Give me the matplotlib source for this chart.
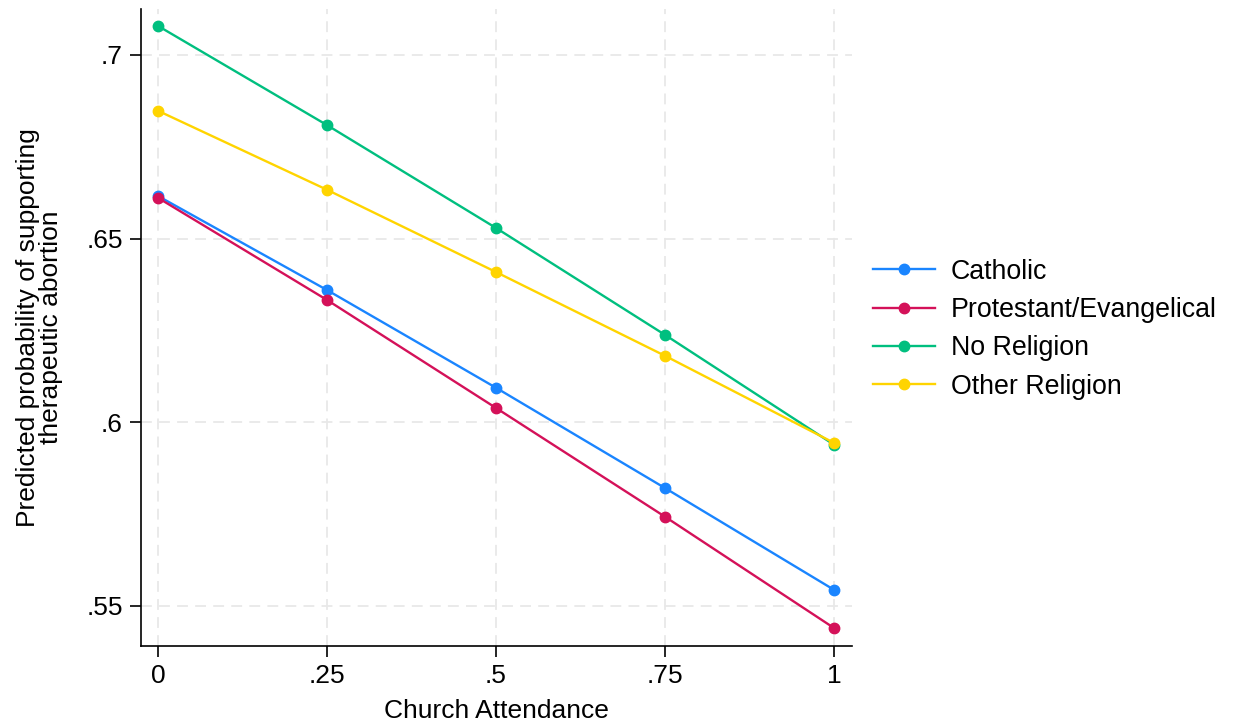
import matplotlib.pyplot as plt

plt.rcParams['font.family'] = ['Liberation Sans', 'DejaVu Sans']

# Church attendance levels and predicted probabilities
attendance = [0, 0.25, 0.5, 0.75, 1]
catholic = [0.6616, 0.6360, 0.6094, 0.5821, 0.5544]
protestant = [0.6611, 0.6333, 0.6039, 0.5743, 0.5440]
no_religion = [0.7079, 0.6809, 0.6529, 0.6238, 0.5939]
other_religion = [0.6848, 0.6633, 0.6409, 0.6181, 0.5944]

x_ticks = [0, 0.25, 0.5, 0.75, 1]
x_tick_labels = ['0', '.25', '.5', '.75', '1']
y_ticks = [0.55, 0.6, 0.65, 0.7]
y_tick_labels = ['.55', '.6', '.65', '.7']

fig = plt.figure(figsize=(12.33, 7.28), dpi=100)
ax = fig.add_axes([0.1144, 0.1126, 0.691 - 0.1144, 0.9876 - 0.1126])

series = [
    ('Catholic', catholic, '#1a85ff'),
    ('Protestant/Evangelical', protestant, '#d41159'),
    ('No Religion', no_religion, '#00bf7f'),
    ('Other Religion', other_religion, '#ffd400'),
]
for label, vals, col in series:
    ax.plot(attendance, vals, color=col, linewidth=1.7, marker='o',
            markersize=7.5, label=label)

ax.set_xlim(-0.0251, 1.0266)
ax.set_ylim(0.5391, 0.7125)
ax.set_xticks(x_ticks)
ax.set_xticklabels(x_tick_labels)
ax.set_yticks(y_ticks)
ax.set_yticklabels(y_tick_labels)
ax.tick_params(labelsize=19, length=8, width=1.2, pad=5, colors='black')

ax.grid(True, color='#e8e8e8', linestyle=(0, (6, 4)), linewidth=1.3)
ax.set_axisbelow(True)
for s in ['top', 'right']:
    ax.spines[s].set_visible(False)
for s in ['left', 'bottom']:
    ax.spines[s].set_linewidth(1.2)

ax.set_xlabel('Church Attendance', fontsize=19, labelpad=8)
ax.set_ylabel('Predicted probability of supporting\ntherapeutic abortion',
              fontsize=19, linespacing=0.95, labelpad=17)

ax.legend(loc='center left', bbox_to_anchor=(873 / 1233, 0.548),
          bbox_transform=fig.transFigure, frameon=False, fontsize=19.3,
          handlelength=2.3, handletextpad=0.6, labelspacing=0.46,
          borderpad=0, borderaxespad=0)

fig.savefig('out.png', dpi=100)
